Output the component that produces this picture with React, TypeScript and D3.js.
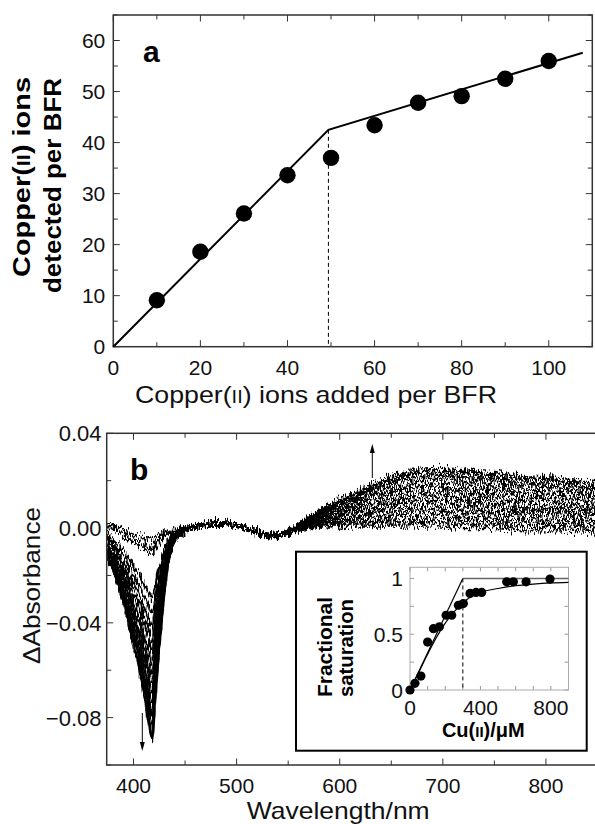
import React from "react";
import * as d3 from "d3";

const FONT = "'Liberation Sans', Arial, Helvetica, sans-serif";

// ---------- Panel a data ----------
const aAdded = [10, 20, 30, 40, 50, 60, 70, 80, 90, 100];
const aDetected = [9.1, 18.6, 26.1, 33.6, 37.0, 43.4, 47.8, 49.1, 52.5, 56.0];
const aFitX = [0, 49.4, 107.8];
const aFitY = [0, 42.5, 57.6];
const aBreakX = 49.4;
const aXTicks = [0, 20, 40, 60, 80, 100];
const aYTicks = [0, 10, 20, 30, 40, 50, 60];

// ---------- Panel b data (spectra) ----------
const specWl = [374, 380, 390, 400, 405, 410, 415, 418, 421, 424, 427, 430, 432, 435, 440, 450, 465, 480, 500, 520, 535, 550, 565, 580, 600, 620, 640, 660, 680, 700, 720, 750, 780, 810, 850];
const specBase = [0.003, 0.002, 0.001, 0.0, 0.0, 0.0, 0.0, 0.0, 0.0, 0.0, 0.0, 0.0, 0.0, -0.001, -0.001, 0.0, 0.001, 0.002, 0.001, -0.002, -0.003, -0.002, 0.0, 0.001, 0.001, 0.001, 0.001, 0.001, 0.001, 0.001, 0.0, 0.0, -0.001, -0.001, -0.002];
const troughShape = [0.18, 0.22, 0.35, 0.55, 0.65, 0.78, 0.92, 1.0, 0.82, 0.62, 0.46, 0.3, 0.22, 0.12, 0.05, 0.01, 0, 0, 0, 0, 0, 0, 0, 0, 0, 0, 0, 0, 0, 0, 0, 0, 0, 0, 0];
const visShape = [0, 0, 0, 0, 0, 0, 0, 0, 0, 0, 0, 0, 0, 0, 0, 0, 0, 0, 0, 0, 0, 0.02, 0.12, 0.25, 0.45, 0.62, 0.78, 0.92, 0.99, 1.0, 1.0, 0.97, 0.94, 0.91, 0.87];
const curveDepth = [0.005, 0.008, 0.011, 0.03, 0.036, 0.042, 0.047, 0.052, 0.057, 0.061, 0.065, 0.069, 0.073, 0.077, 0.08, 0.083, 0.087, 0.09];
const curveAmp = [0.0, 0.0015, 0.003, 0.0045, 0.006, 0.0075, 0.009, 0.0105, 0.012, 0.0135, 0.015, 0.0165, 0.018, 0.0195, 0.021, 0.022, 0.023, 0.024];
const bXTicks = [400, 500, 600, 700, 800];
const bYTicks = [0.04, 0.0, -0.04, -0.08];

// ---------- Inset data ----------
const insetConc = [0, 28, 62, 100, 133, 167, 205, 237, 275, 303, 341, 375, 407, 549, 587, 659, 795];
const insetSat = [0, 0.06, 0.125, 0.43, 0.55, 0.567, 0.67, 0.67, 0.76, 0.775, 0.866, 0.875, 0.875, 0.97, 0.97, 0.97, 0.994];
const insetFitX = [0, 50, 100, 150, 200, 250, 300, 350, 400, 500, 600, 700, 800, 900];
const insetFitY = [0, 0.16, 0.32, 0.47, 0.6, 0.7, 0.78, 0.84, 0.875, 0.91, 0.935, 0.95, 0.96, 0.965];
const insetBreakX = 300;
const insetXTicks = [0, 400, 800];
const insetYTicks = [0, 0.5, 1];

function NoiseFilter({ id, seed }: { id: string; seed: number }) {
  return (
    <filter id={id} x="-0.02" y="-0.1" width="1.04" height="1.2" colorInterpolationFilters="sRGB">
      <feTurbulence type="fractalNoise" baseFrequency="0.7 0.09" numOctaves={2} seed={seed} result="t" />
      <feColorMatrix in="t" type="matrix" values="0 0 0 0 0.5  0 1 0 0 0  0 0 0 0 0  0 0 0 0 1" result="m" />
      <feDisplacementMap in="SourceGraphic" in2="m" scale={17} xChannelSelector="R" yChannelSelector="G" />
    </filter>
  );
}

function App() {
  const xa = d3.scaleLinear().domain([0, 110]).range([113.3, 592.3]);
  const ya = d3.scaleLinear().domain([0, 65]).range([346.7, 15]);
  const xb = d3.scaleLinear().domain([374, 850]).range([106.7, 597.5]);
  const yb = d3.scaleLinear().domain([-0.1, 0.04]).range([765, 433.3]);
  const xi = d3.scaleLinear().domain([0, 900]).range([410, 568.5]);
  const yi = d3.scaleLinear().domain([0, 1.1]).range([690, 567.3]);

  const frame = "#333";

  const lineA = d3.line<number>().x((d, i) => xa(aFitX[i])).y((d, i) => ya(aFitY[i]));
  const specLine = d3
    .line<[number, number]>()
    .x((d) => xb(d[0]))
    .y((d) => yb(d[1]))
    .curve(d3.curveMonotoneX);
  const insetLine = d3
    .line<[number, number]>()
    .x((d) => xi(d[0]))
    .y((d) => yi(d[1]))
    .curve(d3.curveMonotoneX);

  const curves = curveDepth.map((dep, k) =>
    specWl.map((w, i) => [w, specBase[i] - dep * troughShape[i] + curveAmp[k] * visShape[i]] as [number, number])
  );

  const fmtB = d3.format(".2f");

  const aLeft = d3.range(0, 65.1, 5);
  const aBottom = d3.range(0, 110.1, 10);
  const bLeft = d3.range(-0.1, 0.0401, 0.02);
  const bBottom = d3.range(400, 850.1, 50);
  const iLeft = d3.range(0, 1.01, 0.25);
  const iBottom = d3.range(0, 900.1, 100);

  const [x0a, x1a] = xa.range();
  const [y0a, y1a] = ya.range();
  const [x0b, x1b] = xb.range();
  const [y0b, y1b] = yb.range();
  const [x0i, x1i] = xi.range();
  const [y0i, y1i] = yi.range();

  return (
    <svg
      width={595}
      height={824}
      style={{ position: "absolute", left: 0, top: 0, background: "#fff" }}
      fontFamily={FONT}
    >
      <defs>
        <clipPath id="clipB">
          <rect x={x0b} y={y1b} width={x1b - x0b} height={y0b - y1b} />
        </clipPath>
        <NoiseFilter id="noise1" seed={7} />
        <NoiseFilter id="noise2" seed={23} />
        <NoiseFilter id="noise3" seed={51} />
      </defs>
      <rect x={0} y={0} width={595} height={824} fill="#fff" />

      {/* ================= Panel a ================= */}
      <g>
        {aLeft.map((v) => {
          const len = v % 10 === 0 ? 6.5 : 4.5;
          return (
            <g key={"al" + v} stroke={frame} strokeWidth={1}>
              <line x1={x0a} x2={x0a + len} y1={ya(v)} y2={ya(v)} />
              <line x1={x1a} x2={x1a - len} y1={ya(v)} y2={ya(v)} />
            </g>
          );
        })}
        {aBottom.map((v) => {
          const len = v % 20 === 0 ? 6.5 : 4.5;
          return (
            <g key={"ab" + v} stroke={frame} strokeWidth={1}>
              <line x1={xa(v)} x2={xa(v)} y1={y0a} y2={y0a - len} />
              <line x1={xa(v)} x2={xa(v)} y1={y1a} y2={y1a + len} />
            </g>
          );
        })}
        <rect x={x0a} y={y1a} width={x1a - x0a} height={y0a - y1a} fill="none" stroke={frame} strokeWidth={1.5} />
        {aYTicks.map((v) => (
          <text key={"ayl" + v} x={x0a - 8} y={ya(v)} dy="0.36em" textAnchor="end" fontSize={21} fill="#111">
            {v}
          </text>
        ))}
        {aXTicks.map((v) => (
          <text key={"axl" + v} x={xa(v)} y={375} textAnchor="middle" fontSize={21} fill="#111">
            {v}
          </text>
        ))}
        <line
          x1={xa(aBreakX)}
          x2={xa(aBreakX)}
          y1={ya(aFitY[1])}
          y2={y0a}
          stroke="#000"
          strokeWidth={1}
          strokeDasharray="4,3"
        />
        <path d={lineA(aFitX) || ""} fill="none" stroke="#000" strokeWidth={2} />
        {aAdded.map((v, i) => (
          <circle key={"ap" + i} cx={xa(v)} cy={ya(aDetected[i])} r={8.2} fill="#000" />
        ))}
        <text x={143} y={62} fontSize={30} fontWeight="bold" fill="#000">
          a
        </text>
        <text x={135} y={403} fontSize={24} fill="#111" textLength={362} lengthAdjust="spacingAndGlyphs">
          Copper(<tspan fontSize={18}>II</tspan>) ions added per BFR
        </text>
        <text
          transform="translate(30,277) rotate(-90)"
          fontSize={24}
          fontWeight="bold"
          fill="#000"
          textLength={200}
          lengthAdjust="spacingAndGlyphs"
        >
          Copper(<tspan fontSize={18}>II</tspan>) ions
        </text>
        <text
          transform="translate(61,293) rotate(-90)"
          fontSize={24}
          fontWeight="bold"
          fill="#000"
          textLength={215}
          lengthAdjust="spacingAndGlyphs"
        >
          detected per BFR
        </text>
      </g>

      {/* ================= Panel b ================= */}
      <g>
        {bLeft.map((v, i) => {
          const major = Math.abs(Math.round(v * 100) % 4) === 0;
          const len = major ? 6.5 : 4.5;
          return <line key={"bl" + i} x1={x0b} x2={x0b + len} y1={yb(v)} y2={yb(v)} stroke={frame} />;
        })}
        {bBottom.map((v) => {
          const len = v % 100 === 0 ? 6.5 : 4.5;
          return (
            <g key={"bb" + v} stroke={frame}>
              <line x1={xb(v)} x2={xb(v)} y1={y0b} y2={y0b - len} />
              <line x1={xb(v)} x2={xb(v)} y1={y1b} y2={y1b + len} />
            </g>
          );
        })}
        <g clipPath="url(#clipB)">
          {[0, 1, 2].map((grp) => (
            <g key={"sg" + grp} filter={`url(#noise${grp + 1})`}>
              {curves
                .filter((c, k) => k % 3 === grp)
                .map((c, k) => (
                  <path key={"sp" + grp + "-" + k} d={specLine(c) || ""} fill="none" stroke="#000" strokeWidth={2.2} />
                ))}
            </g>
          ))}
        </g>
        <rect x={x0b} y={y1b} width={x1b - x0b} height={y0b - y1b} fill="none" stroke={frame} strokeWidth={1.5} />
        {bYTicks.map((v) => (
          <text key={"byl" + v} x={101.5} y={yb(v)} dy="0.36em" textAnchor="end" fontSize={22} fill="#111">
            {fmtB(v)}
          </text>
        ))}
        {bXTicks.map((v) => (
          <text key={"bxl" + v} x={xb(v)} y={792.5} textAnchor="middle" fontSize={21} fill="#111">
            {v}
          </text>
        ))}
        <text x={130} y={480} fontSize={30} fontWeight="bold" fill="#000">
          b
        </text>
        <text x={246.7} y={819} fontSize={24} fill="#111" textLength={183} lengthAdjust="spacingAndGlyphs">
          Wavelength/nm
        </text>
        <text
          transform="translate(40,664) rotate(-90)"
          fontSize={24}
          fill="#111"
          textLength={157}
          lengthAdjust="spacingAndGlyphs"
        >
          ΔAbsorbance
        </text>
        <line x1={142.3} x2={142.3} y1={713} y2={743} stroke="#000" strokeWidth={1} />
        <path d="M139.8,742 L144.8,742 L142.3,751 Z" fill="#000" />
        <line x1={372.3} x2={372.3} y1={478} y2={452} stroke="#000" strokeWidth={1} />
        <path d="M369.8,453 L374.8,453 L372.3,444 Z" fill="#000" />
      </g>

      {/* ================= Inset ================= */}
      <g>
        <rect x={296} y={551.7} width={290.7} height={199} fill="#fff" stroke="#000" strokeWidth={2} />
        {iLeft.map((v) => (
          <g key={"il" + v} stroke="#999">
            <line x1={x0i} x2={x0i + 4} y1={yi(v)} y2={yi(v)} />
            <line x1={x1i} x2={x1i - 4} y1={yi(v)} y2={yi(v)} />
          </g>
        ))}
        {iBottom.map((v) => (
          <g key={"ib" + v} stroke="#999">
            <line x1={xi(v)} x2={xi(v)} y1={y0i} y2={y0i - 4} />
            <line x1={xi(v)} x2={xi(v)} y1={y1i} y2={y1i + 4} />
          </g>
        ))}
        <rect x={x0i} y={y1i} width={x1i - x0i} height={y0i - y1i} fill="none" stroke="#aaa" strokeWidth={1} />
        <line
          x1={xi(insetBreakX)}
          x2={xi(insetBreakX)}
          y1={yi(1)}
          y2={y0i}
          stroke="#000"
          strokeWidth={1}
          strokeDasharray="4,3"
        />
        <path d={insetLine([[0, 0], [insetBreakX, 1]]) || ""} fill="none" stroke="#000" strokeWidth={1.2} />
        <path d={insetLine([[insetBreakX, 1], [900, 1]]) || ""} fill="none" stroke="#666" strokeWidth={1.5} />
        <path
          d={insetLine(insetFitX.map((x, i) => [x, insetFitY[i]] as [number, number])) || ""}
          fill="none"
          stroke="#000"
          strokeWidth={1.2}
        />
        {insetConc.map((c, i) => (
          <circle key={"ipt" + i} cx={xi(c)} cy={yi(insetSat[i])} r={4.6} fill="#000" />
        ))}
        {insetYTicks.map((v) => (
          <text key={"iyl" + v} x={403} y={yi(v)} dy="0.36em" textAnchor="end" fontSize={21} fill="#111">
            {v}
          </text>
        ))}
        {insetXTicks.map((v) => (
          <text key={"ixl" + v} x={xi(v)} y={715} textAnchor="middle" fontSize={21} fill="#111">
            {v}
          </text>
        ))}
        <text x={483.3} y={737} textAnchor="middle" fontSize={20} fontWeight="bold" fill="#000">
          Cu(<tspan fontSize={15}>II</tspan>)/μM
        </text>
        <text
          transform="translate(331.5,697) rotate(-90)"
          fontSize={21}
          fontWeight="bold"
          fill="#000"
          textLength={100}
          lengthAdjust="spacingAndGlyphs"
        >
          Fractional
        </text>
        <text
          transform="translate(353,697) rotate(-90)"
          fontSize={21}
          fontWeight="bold"
          fill="#000"
          textLength={98}
          lengthAdjust="spacingAndGlyphs"
        >
          saturation
        </text>
      </g>
    </svg>
  );
}

export default App;
